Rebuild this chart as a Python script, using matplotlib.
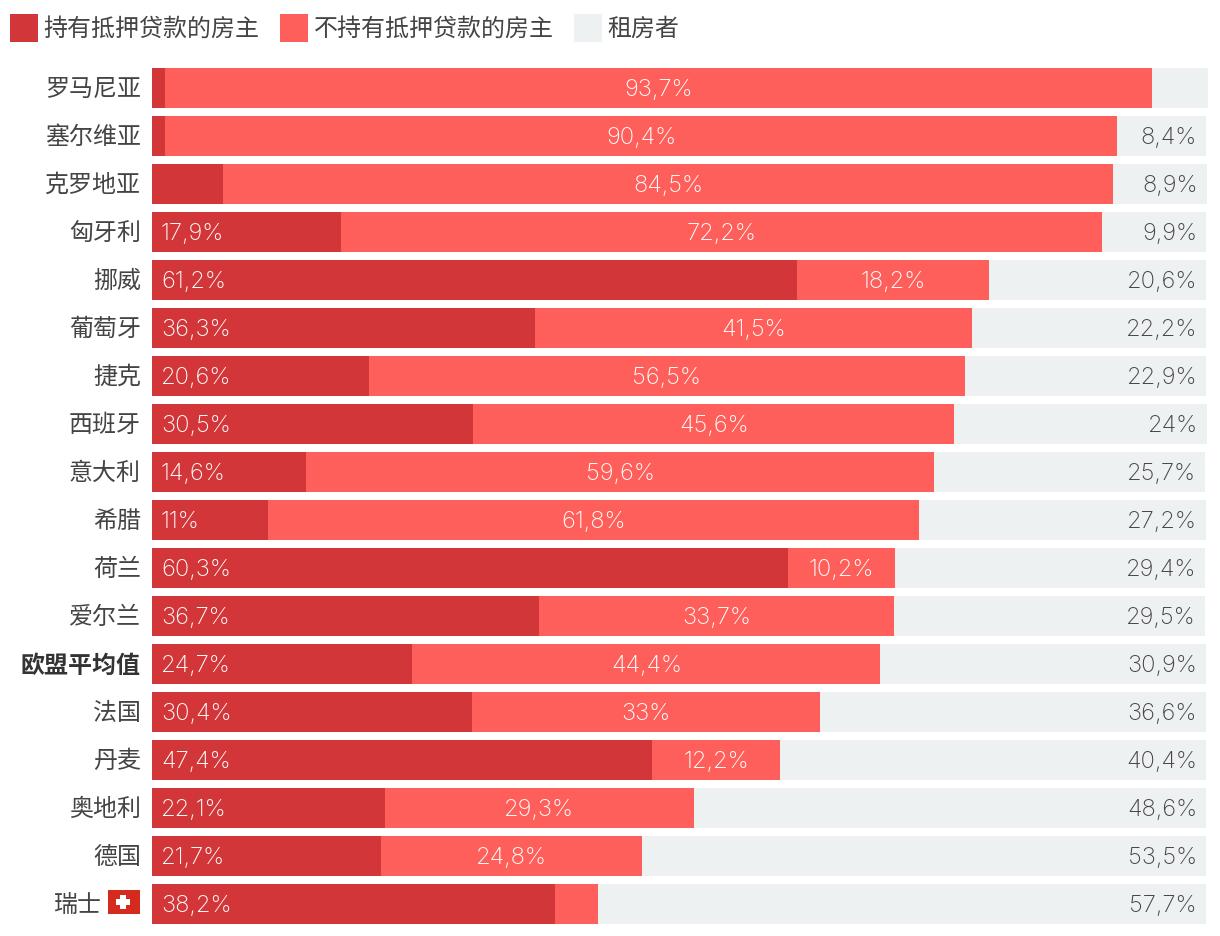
import matplotlib
matplotlib.use("Agg")
import matplotlib.pyplot as plt
from matplotlib.patches import Rectangle
from matplotlib.transforms import ScaledTranslation

W, H = 1220, 936
DPI = 100
PX = 72 / DPI

countries = ["罗马尼亚", "塞尔维亚", "克罗地亚", "匈牙利", "挪威", "葡萄牙", "捷克", "西班牙", "意大利",
             "希腊", "荷兰", "爱尔兰", "欧盟平均值", "法国", "丹麦", "奥地利", "德国", "瑞士"]
with_mortgage = [1.2, 1.2, 6.7, 17.9, 61.2, 36.3, 20.6, 30.5, 14.6, 11, 60.3, 36.7, 24.7, 30.4, 47.4, 22.1, 21.7, 38.2]
no_mortgage = [93.7, 90.4, 84.5, 72.2, 18.2, 41.5, 56.5, 45.6, 59.6, 61.8, 10.2, 33.7, 44.4, 33, 12.2, 29.3, 24.8, 4.1]
tenants = [5.3, 8.4, 8.9, 9.9, 20.6, 22.2, 22.9, 24, 25.7, 27.2, 29.4, 29.5, 30.9, 36.6, 40.4, 48.6, 53.5, 57.7]
legend_labels = ["持有抵押贷款的房主", "不持有抵押贷款的房主", "租房者"]

DARK, LIGHT, GRAY = "#D33639", "#FF5F5A", "#EEF1F2"
TEXT = "#444444"
CJK = ["Noto Sans CJK SC", "DejaVu Sans"]
NUM = ["Inter", "DejaVu Sans"]
FS = 24 * PX
NUM_FS = 23.7 * PX
MIN_LABEL = 8

fig = plt.figure(figsize=(W / DPI, H / DPI), dpi=DPI, facecolor="white")
ax = fig.add_axes([152 / W, 1 - 928 / H, 1056.1 / W, 864 / H])
ax.set_xlim(0, 100.2)
ax.set_ylim(len(countries) - 0.5, -0.5)
for s in ax.spines.values():
    s.set_visible(False)
ax.xaxis.set_visible(False)

y = list(range(len(countries)))
h = 40 / 48
ax.barh(y, with_mortgage, height=h, color=DARK, linewidth=0)
ax.barh(y, no_mortgage, left=with_mortgage, height=h, color=LIGHT, linewidth=0)
lefts = [a + b for a, b in zip(with_mortgage, no_mortgage)]
ax.barh(y, tenants, left=lefts, height=h, color=GRAY, linewidth=0)

ax.set_yticks(y)
ax.set_yticklabels(countries, family=CJK, fontsize=FS, color=TEXT)
up = ScaledTranslation(0, 1 / DPI, fig.dpi_scale_trans)
ax.tick_params(axis="y", length=0, pad=11 * PX)
ax.get_yticklabels()[countries.index("欧盟平均值")].set_fontweight("bold")
ax.get_yticklabels()[countries.index("欧盟平均值")].set_color("#333333")
ax.yaxis.get_major_ticks()[countries.index("瑞士")].set_pad(50 * PX)
for lab in ax.get_yticklabels():
    lab.set_transform(lab.get_transform() + up)


def fmt(v):
    return f"{v:g}".replace(".", ",") + "%"


num_kw = dict(family=NUM, fontweight="light", fontsize=NUM_FS, va="center_baseline")
off_l = ScaledTranslation(9 / DPI, 1 / DPI, fig.dpi_scale_trans)
off_r = ScaledTranslation(-9 / DPI, 1 / DPI, fig.dpi_scale_trans)
for i in y:
    if with_mortgage[i] >= MIN_LABEL:
        ax.text(0, i, fmt(with_mortgage[i]), ha="left", color="white",
                transform=ax.transData + off_l, **num_kw)
    if no_mortgage[i] >= MIN_LABEL:
        ax.text(with_mortgage[i] + no_mortgage[i] / 2, i, fmt(no_mortgage[i]), ha="center", color="white",
                transform=ax.transData + up, **num_kw)
    if tenants[i] >= MIN_LABEL:
        ax.text(lefts[i] + tenants[i], i, fmt(tenants[i]), ha="right", color=TEXT,
                transform=ax.transData + off_r, **num_kw)


def fig_rect(x0, y0, w, h_, color):
    fig.add_artist(Rectangle((x0 / W, 1 - (y0 + h_) / H), w / W, h_ / H, transform=fig.transFigure,
                             facecolor=color, edgecolor="none"))


# legend
for lx, tx, c, lab in zip([10, 280, 574], [43, 314, 607], [DARK, LIGHT, GRAY], legend_labels):
    fig_rect(lx, 14, 28, 28, c)
    fig.text(tx / W, 1 - 29 / H, lab, family=CJK, fontsize=FS, color=TEXT, ha="left", va="center")

# Swiss flag
fig_rect(108, 890, 32, 24, "#D52B1E")
fig_rect(120, 895, 6, 14, "white")
fig_rect(116, 899, 14, 6, "white")

fig.savefig("out.png", dpi=DPI, facecolor="white")
